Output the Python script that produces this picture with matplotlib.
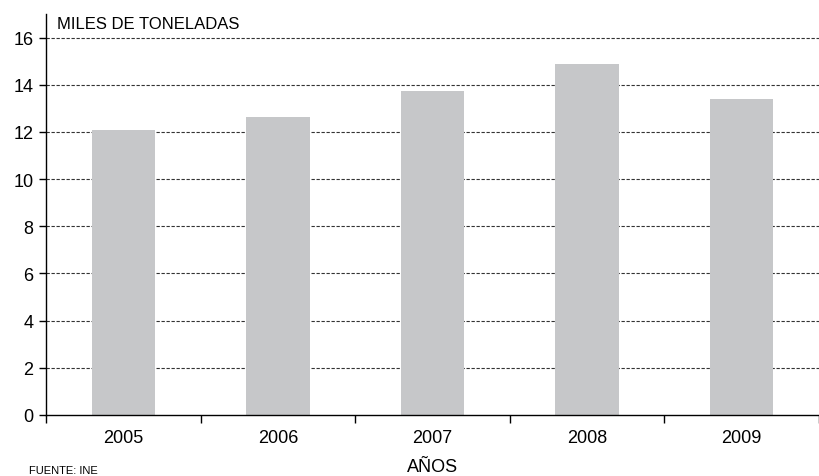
import numpy as np
import matplotlib.pyplot as plt
from matplotlib.ticker import FixedLocator

plt.rcParams['font.family'] = ['Liberation Sans', 'DejaVu Sans']

years = ['2005', '2006', '2007', '2008', '2009']
valores = [12.1, 12.65, 13.75, 14.9, 13.4]
yticks = [0, 2, 4, 6, 8, 10, 12, 14, 16]

fig = plt.figure(figsize=(8.19, 4.77), dpi=100)
ax = fig.add_axes([0.0562, 0.1279, 0.9438, 0.8407])

x = np.arange(len(years))
ax.bar(x, valores, width=0.41, color='#c6c7c9', zorder=2)

ax.set_xlim(-0.5, len(years) - 0.5)
ax.set_ylim(0, 17)
ax.set_yticks(yticks)
ax.set_yticklabels([str(v) for v in yticks], fontsize=13)
for v in yticks[1:]:
    ax.axhline(v, color='#333333', lw=0.8, ls=(0, (3, 1.5)), zorder=1)

ax.xaxis.set_major_locator(FixedLocator(np.arange(-0.5, len(years), 1.0)))
ax.xaxis.set_major_formatter(plt.NullFormatter())
ax.xaxis.set_minor_locator(FixedLocator(x))
ax.set_xticklabels(years, minor=True, fontsize=13)
ax.tick_params(axis='x', which='major', length=6, width=1, direction='out')
ax.tick_params(axis='x', which='minor', length=0, pad=10)
ax.tick_params(axis='y', length=5, width=1, direction='out', pad=4)

for s in ['top', 'right']:
    ax.spines[s].set_visible(False)
ax.spines['left'].set_linewidth(1)
ax.spines['bottom'].set_linewidth(1)

ax.text(0.014, 0.995, 'MILES DE TONELADAS', transform=ax.transAxes,
        fontsize=12, va='top', ha='left')
ax.set_xlabel('AÑOS', fontsize=13, labelpad=9)
fig.text(0.035, 0.002, 'FUENTE: INE', fontsize=8, ha='left', va='bottom')

fig.savefig('out.png', dpi=100)
